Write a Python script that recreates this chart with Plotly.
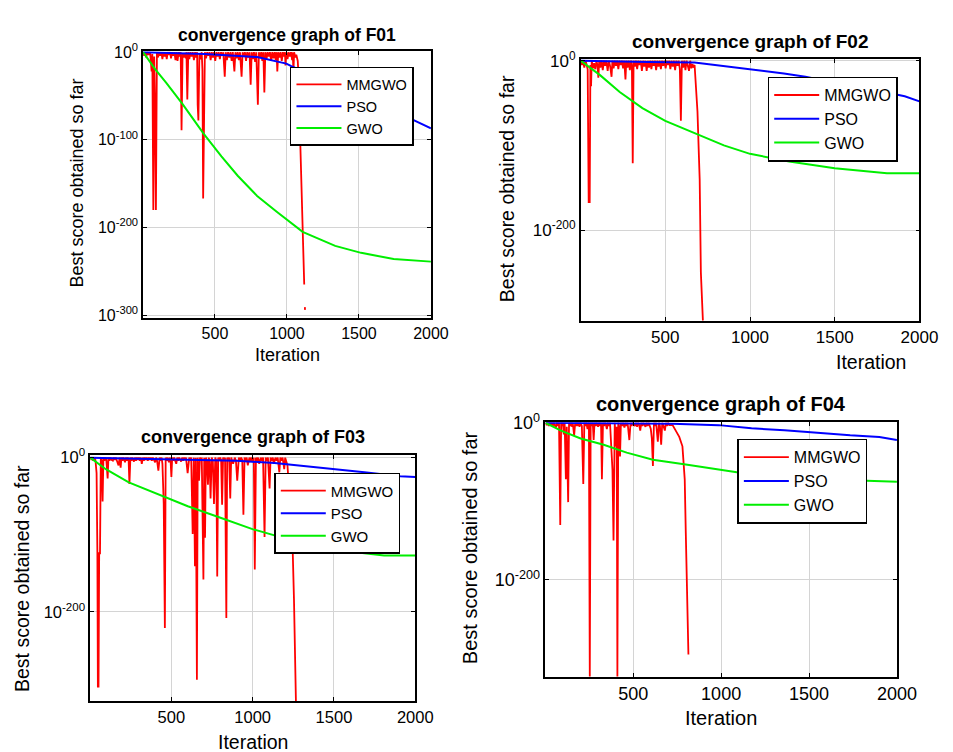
import plotly.graph_objects as go

# ---------------- data (iteration, log10 of best score) ----------------
series_names = ["MMGWO", "PSO", "GWO"]
x_ticks = [500, 1000, 1500, 2000]

f01_mmgwo = [(1, 0), (8, -4), (15, 0), (22, -6), (30, 0), (40, -3), (50, 0), (60, -22), (65, -2), (72, -180),
             (78, -5), (84, -60), (90, -180), (97, 0), (105, -6), (112, 0), (120, -4), (128, 0), (135, -8),
             (142, 0), (150, -5), (158, 0), (165, -8), (172, 0), (180, -3), (188, 0), (195, -7), (202, 0),
             (210, -4), (218, 0), (226, -9), (233, 0), (240, -10), (248, 0), (256, -5), (262, 0), (268, -89),
             (275, -2), (282, -6), (290, -1), (297, -7), (302, 0), (308, -54), (315, 0), (322, -8), (330, 0),
             (338, -5), (346, 0), (354, -9), (362, 0), (370, -6), (376, 0), (380, -60), (385, -78), (392, -2),
             (400, -8), (408, 0), (413, -20), (418, -167), (424, -100), (430, 0), (438, -7), (446, 0),
             (454, -4), (462, 0), (470, -9), (478, 0), (486, -6), (494, 0), (502, -10), (510, 0), (518, -5),
             (526, 0), (534, -8), (542, 0), (550, -4), (558, 0), (568, -28), (575, 0), (583, -9), (591, 0),
             (600, -6), (608, 0), (616, -10), (624, 0), (635, -22), (642, 0), (650, -7), (658, 0), (666, -9),
             (674, 0), (685, -28), (692, 0), (700, -5), (708, 0), (716, -10), (724, 0), (732, -6), (740, 0),
             (748, -37), (755, 0), (763, -8), (771, 0), (779, -11), (787, 0), (798, -60), (805, 0), (813, -6),
             (821, 0), (829, -10), (836, 0), (843, -46), (850, 0), (858, -8), (866, 0), (874, -5), (882, 0),
             (890, -10), (898, 0), (906, -7), (914, 0), (922, -9), (928, 0), (933, -22), (940, 0), (948, -6),
             (956, 0), (964, -10), (972, 0), (980, -5), (986, 0), (990, -15), (996, 0), (1004, -8), (1012, 0),
             (1020, -5), (1028, 0), (1036, -9), (1040, 0), (1045, -22), (1050, 0), (1058, -6), (1065, -3),
             (1075, -10), (1085, -40), (1092, -100), (1100, -150), (1110, -200), (1118, -260), (1120, -265),
             (None, None), (1124, -291), (1126, -294)]
f01_pso = [(1, 0), (430, -2), (793, -5.6), (996, -13), (1030, -16), (1200, -28), (1400, -41), (1600, -55),
           (1887, -78), (2000, -87)]
f01_gwo = [(1, 0), (83, -19), (162, -35), (274, -59), (421, -93), (545, -119), (658, -141), (793, -164),
           (929, -182), (1109, -205), (1335, -221), (1515, -229), (1741, -236), (2000, -239)]
f01_yticks = [0, -100, -200, -300]

f02_mmgwo = [(1, 0), (8, -5), (15, 0), (22, -8), (30, 0), (36, -4), (42, -10), (48, -167), (54, -167),
             (58, -5), (62, -30), (66, 0), (73, -9), (80, -3), (87, -10), (94, 0), (100, -6), (105, -20),
             (110, 0), (117, -8), (124, 0), (131, -11), (138, 0), (145, -6), (152, 0), (160, -12), (167, 0),
             (175, -7), (183, -19), (188, 0), (195, -9), (202, 0), (209, -6), (216, 0), (223, -10), (230, 0),
             (237, -5), (244, 0), (251, -9), (258, 0), (265, -22), (270, 0), (277, -8), (284, 0), (291, -11),
             (298, 0), (303, -6), (308, -121), (313, 0), (320, -7), (327, 0), (334, -10), (341, 0), (348, -5),
             (355, 0), (362, -12), (369, 0), (376, -7), (383, 0), (390, -12), (397, 0), (404, -8), (411, 0),
             (418, -10), (425, 0), (432, -6), (439, 0), (446, -11), (453, 0), (460, -7), (467, 0), (474, -10),
             (481, 0), (488, -6), (495, 0), (502, -9), (509, 0), (516, -5), (523, 0), (530, -10), (537, 0),
             (544, -7), (551, 0), (558, -11), (565, 0), (572, -6), (579, 0), (586, -10), (592, -71), (598, 0),
             (605, -8), (612, 0), (619, -11), (626, 0), (633, -6), (640, -12), (647, 0), (654, -9), (660, -4),
             (666, -8), (673, -5), (690, -60), (698, -110), (703, -140), (710, -250), (717, -295), (722, -307)]
f02_pso = [(1, 0), (200, -1), (400, -1.5), (673, -2), (800, -5), (1000, -10), (1200, -15), (1327, -19),
           (1500, -26), (1700, -33), (1913, -42), (2000, -48)]
f02_gwo = [(1, 0), (115, -17), (231, -37), (365, -56), (500, -71), (692, -87), (846, -100), (1000, -110),
           (1231, -119), (1500, -127), (1808, -133), (2000, -133)]
f02_yticks = [0, -200]

f03_mmgwo = [(1, 0), (8, -3), (14, 0), (20, -4), (26, 0), (33, -3), (40, -20), (45, -124), (48, -297),
             (52, -297), (56, -124), (61, -124), (66, 0), (71, -4), (77, -57), (82, 0), (88, -4), (94, 0),
             (100, -3), (108, -27), (113, 0), (119, -4), (125, 0), (132, -3), (140, -4), (146, 0), (152, -3),
             (158, 0), (165, -4), (175, -10), (182, 0), (188, -13), (193, 0), (199, -4), (205, 0), (210, -3),
             (215, -6), (220, 0), (226, -4), (232, 0), (237, -3), (242, -34), (248, 0), (254, -4), (260, 0),
             (265, -3), (270, -5), (276, 0), (282, -4), (288, 0), (294, -3), (300, 0), (306, -4), (312, 0),
             (318, -8), (325, 0), (331, -4), (337, 0), (343, -3), (349, 0), (355, -4), (362, 0), (368, -3),
             (374, 0), (380, -4), (386, 0), (392, -3), (400, -6), (406, 0), (412, -4), (420, -17), (428, 0),
             (434, -4), (440, 0), (445, -8), (453, -60), (460, -221), (465, 0), (471, -4), (477, 0), (485, -6),
             (490, 0), (495, -3), (500, -25), (505, 0), (511, -4), (517, 0), (523, -3), (530, -8), (536, 0),
             (542, -4), (548, 0), (554, -3), (560, -5), (566, 0), (572, -4), (578, 0), (584, -3), (590, 0),
             (600, -20), (610, 0), (616, -4), (622, 0), (631, -99), (638, 0), (645, -141), (650, 0),
             (657, -288), (662, 0), (670, -30), (676, 0), (682, -4), (687, 0), (692, -90), (697, -158),
             (702, 0), (707, -104), (712, 0), (718, -4), (725, -35), (730, 0), (735, -4), (741, -53), (748, 0),
             (755, -4), (762, -60), (770, 0), (776, -4), (782, -154), (788, 0), (794, -4), (800, 0), (806, -3),
             (812, -61), (818, 0), (824, -4), (830, 0), (838, -208), (843, 0), (849, -4), (855, 0), (862, -53),
             (868, 0), (874, -4), (880, -8), (890, 0), (897, -4), (905, -30), (915, 0), (922, -4), (929, 0),
             (936, -3), (943, -74), (950, 0), (957, -4), (963, 0), (970, -10), (980, 0), (987, -4), (993, 0),
             (1000, -5), (1007, 0), (1013, -145), (1020, 0), (1027, -4), (1033, 0), (1040, -8), (1050, 0),
             (1057, -4), (1064, 0), (1073, -103), (1080, 0), (1087, -4), (1094, 0), (1104, -40), (1110, 0),
             (1117, -4), (1124, 0), (1130, -8), (1140, 0), (1147, -4), (1154, 0), (1164, -19), (1170, 0),
             (1177, -4), (1184, 0), (1194, -15), (1200, 0), (1207, -4), (1214, -10), (1230, -60), (1244, -103),
             (1254, -183), (1260, -250), (1266, -316)]
f03_pso = [(1, 0), (200, -1), (500, -2), (700, -3), (902, -4), (1134, -7), (1305, -10.5), (1506, -15),
           (1687, -19), (1907, -24), (2000, -25)]
f03_gwo = [(1, 0), (97, -15), (238, -32), (399, -46), (601, -63), (802, -78), (1003, -93), (1204, -105),
           (1405, -116), (1607, -122), (1808, -127), (2000, -127)]
f03_yticks = [0, -200]

f04_mmgwo = [(1, 0), (7, -3), (13, 0), (20, -4), (26, 0), (30, -3), (36, 0), (42, -5), (48, 0), (54, -3),
             (60, -6), (66, 0), (72, -4), (78, 0), (85, -130), (90, 0), (96, -4), (100, 0), (105, -15), (110, 0),
             (117, -72), (122, -5), (130, -101), (135, 0), (141, -4), (146, 0), (150, -5), (156, 0), (164, -16),
             (170, 0), (176, -4), (180, 0), (185, -4), (190, 0), (195, -5), (200, 0), (208, -4), (216, -78),
             (222, 0), (228, -4), (234, 0), (240, -8), (248, 0), (253, -323), (258, 0), (264, -4), (270, 0),
             (275, -22), (280, 0), (286, -4), (292, 0), (300, -5), (306, 0), (312, -4), (317, 0), (322, -72),
             (328, 0), (334, -4), (340, 0), (345, -3), (350, -8), (356, 0), (362, -4), (368, 0), (375, -25),
             (382, -60), (388, -150), (395, 0), (402, -30), (406, -5), (410, -323), (415, 0), (420, -5),
             (425, -43), (430, 0), (436, -4), (442, 0), (450, -6), (456, 0), (462, -4), (468, 0), (478, -22),
             (485, 0), (491, -4), (497, 0), (504, -3), (510, -4), (516, 0), (522, -5), (528, 0), (534, -3),
             (540, -10), (546, 0), (552, -4), (558, 0), (564, -3), (570, -5), (576, 0), (582, -4), (588, 0),
             (594, -3), (600, -8), (606, -20), (612, -55), (618, 0), (624, -4), (630, 0), (640, -24), (646, 0),
             (652, -4), (659, -28), (665, 0), (672, -4), (680, -10), (686, 0), (692, -4), (698, 0), (705, -3),
             (724, -3), (745, -12), (762, -18), (780, -30), (793, -72), (799, -140), (805, -220), (810, -260),
             (814, -295)]
f04_pso = [(1, 0), (400, -1), (724, -1.2), (986, -3), (1173, -7), (1360, -9.5), (1547, -13), (1734, -16),
           (1900, -18), (2000, -22)]
f04_gwo = [(1, 0), (89, -10), (201, -20), (332, -28), (463, -38), (612, -47), (799, -53), (986, -59),
           (1089, -63), (1300, -68), (1500, -71), (1700, -73), (1902, -74), (2000, -75)]
f04_yticks = [0, -200]

# ---------------- styling / layout ----------------
W, H = 953, 752
colors = ["#ff0000", "#0000ff", "#00ee00"]
widths = [1.8, 2.0, 2.0]
FONT = "Liberation Sans, Arial, sans-serif"

panels = [
    dict(title="convergence graph of F01", data=(f01_mmgwo, f01_pso, f01_gwo), yticks=f01_yticks,
         yrange=[-303, 1.1], box=(138, 432, 32, 305), title_xy=(285, 15), ylab_xy=(70, 167),
         xlab_xy=(285, 343), leg_xy=(288, 48), fs=dict(title=17.5, label=18, tick=16, legend=14.5)),
    dict(title="convergence graph of F02", data=(f02_mmgwo, f02_pso, f02_gwo), yticks=f02_yticks,
         yrange=[-307, 2], box=(585, 931, 40, 308), title_xy=(758, 22), ylab_xy=(510, 173),
         xlab_xy=(882, 350), leg_xy=(776, 58), fs=dict(title=19, label=19.5, tick=17, legend=16)),
    dict(title="convergence graph of F03", data=(f03_mmgwo, f03_pso, f03_gwo), yticks=f03_yticks,
         yrange=[-316, 3], box=(84, 416, 446, 698), title_xy=(250, 427), ylab_xy=(15, 572),
         xlab_xy=(250, 740), leg_xy=(272, 464), fs=dict(title=18, label=19.5, tick=16.5, legend=15)),
    dict(title="convergence graph of F04", data=(f04_mmgwo, f04_pso, f04_gwo), yticks=f04_yticks,
         yrange=[-323.5, 0.8], box=(549, 908, 412, 673), title_xy=(728, 393), ylab_xy=(472, 541),
         xlab_xy=(728, 715), leg_xy=(745, 429), fs=dict(title=20, label=20, tick=18, legend=16)),
]


def px(x):
    return x / W


def py(y):
    return 1 - y / H


fig = go.Figure()
annotations = []
layout = dict(width=W, height=H, margin=dict(l=0, r=0, t=0, b=0), paper_bgcolor="white",
              plot_bgcolor="white", font=dict(family=FONT, color="black"), showlegend=True)

for i, p in enumerate(panels):
    k = "" if i == 0 else str(i + 1)
    xa, ya = "x" + k, "y" + k
    leg = "legend" + k
    for j, series in enumerate(p["data"]):
        xs = [pt[0] for pt in series]
        ys = [None if pt[1] is None else 10.0 ** pt[1] for pt in series]
        fig.add_trace(go.Scatter(x=xs, y=ys, mode="lines", name=series_names[j], xaxis=xa, yaxis=ya,
                                 legend=leg, line=dict(color=colors[j], width=widths[j]),
                                 connectgaps=False, hoverinfo="skip"))
    x0, x1, y0, y1 = p["box"]
    fs = p["fs"]
    layout["xaxis" + k] = dict(domain=[px(x0), px(x1)], range=[1, 2000], anchor=ya, tickvals=x_ticks,
                               ticktext=[str(v) for v in x_ticks], showgrid=True, gridcolor="#d4d4d4",
                               gridwidth=1, showline=True, linecolor="black", linewidth=1.6, mirror="ticks",
                               ticks="inside", ticklen=4, tickcolor="black", zeroline=False,
                               tickfont=dict(size=fs["tick"], family=FONT, color="black"))
    layout["yaxis" + k] = dict(domain=[py(y1), py(y0)], type="log", range=p["yrange"], anchor=xa,
                               tickvals=[10.0 ** e for e in p["yticks"]],
                               ticktext=["10<sup>%d</sup>" % e for e in p["yticks"]],
                               showgrid=True, gridcolor="#d4d4d4", gridwidth=1, showline=True,
                               linecolor="black", linewidth=1.6, mirror="ticks", ticks="inside", ticklen=4,
                               tickcolor="black", zeroline=False,
                               tickfont=dict(size=fs["tick"], family=FONT, color="black"))
    lx, ly = p["leg_xy"]
    layout[leg] = dict(x=px(lx), y=py(ly), xanchor="left", yanchor="top", xref="paper", yref="paper",
                       bgcolor="white", bordercolor="black", borderwidth=1.5, itemwidth=45,
                       tracegroupgap=0, font=dict(size=fs["legend"], family=FONT, color="black"))
    tx, ty = p["title_xy"]
    annotations.append(dict(text="<b>%s</b>" % p["title"], x=px(tx), y=py(ty), xref="paper", yref="paper",
                            xanchor="center", yanchor="middle", showarrow=False,
                            font=dict(size=fs["title"], family=FONT, color="black")))
    vx, vy = p["ylab_xy"]
    annotations.append(dict(text="Best score obtained so far", x=px(vx), y=py(vy), xref="paper",
                            yref="paper", xanchor="center", yanchor="middle", textangle=-90,
                            showarrow=False, font=dict(size=fs["label"], family=FONT, color="black")))
    hx, hy = p["xlab_xy"]
    annotations.append(dict(text="Iteration", x=px(hx), y=py(hy), xref="paper", yref="paper",
                            xanchor="center", yanchor="middle", showarrow=False,
                            font=dict(size=fs["label"], family=FONT, color="black")))

layout["annotations"] = annotations
fig.update_layout(**layout)
fig.write_html("out.html")
